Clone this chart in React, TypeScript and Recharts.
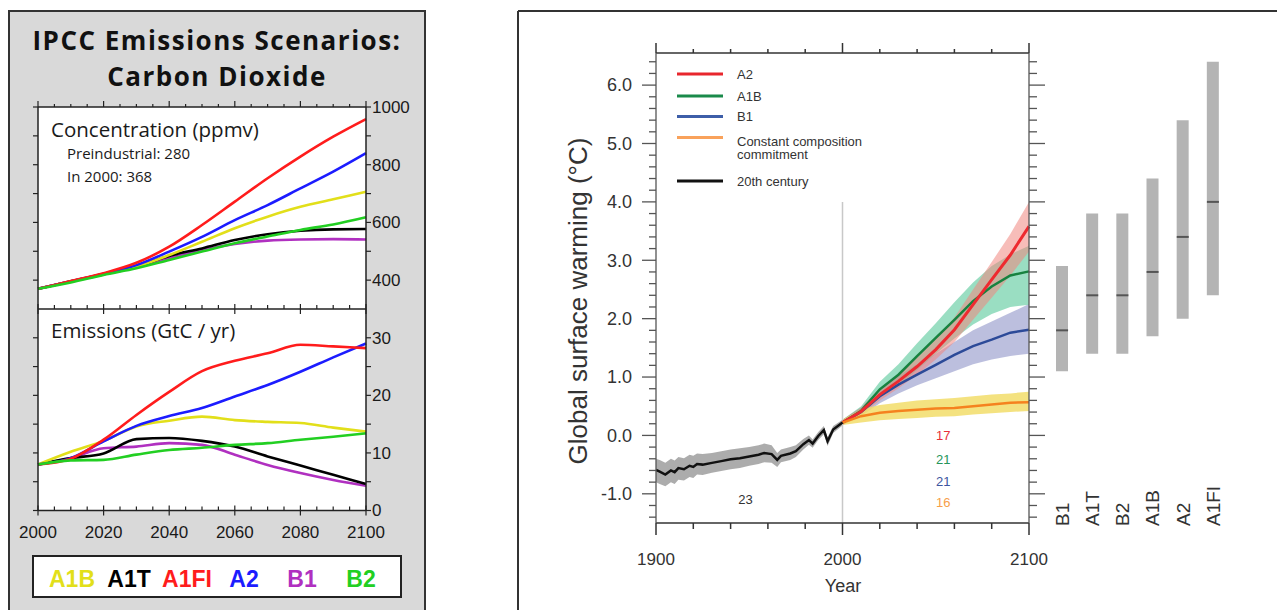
import React from 'react';
import {
  ComposedChart, Line, Area, Bar, Scatter, XAxis, YAxis, CartesianGrid, ReferenceLine, ReferenceDot,
} from 'recharts';

// ---------------- Left panel: IPCC SRES scenarios ----------------
const scenYears = [2000, 2010, 2020, 2030, 2040, 2050, 2060, 2070, 2080, 2090, 2100];
const concA1B = [370, 396, 422, 447, 487, 533, 580, 620, 654, 680, 706];
const concA1T = [370, 396, 421, 447, 484, 510, 539, 559, 571, 576, 577];
const concA1FI = [370, 397, 424, 460, 516, 591, 672, 753, 828, 897, 958];
const concA2 = [370, 396, 422, 452, 499, 550, 608, 660, 718, 776, 840];
const concB1 = [370, 395, 420, 445, 476, 504, 525, 537, 541, 542, 541];
const concB2 = [370, 392, 418, 441, 470, 499, 528, 551, 574, 593, 618];

const emisA1B = [8.0, 10.2, 12.1, 14.6, 15.6, 16.3, 15.7, 15.4, 15.2, 14.4, 13.7];
const emisA1T = [8.0, 9.1, 9.9, 12.4, 12.6, 12.1, 11.1, 9.4, 7.8, 6.2, 4.6];
const emisA1FI = [8.0, 9.0, 12.3, 16.6, 20.6, 24.2, 26.0, 27.3, 28.8, 28.5, 28.2];
const emisA2 = [8.0, 9.1, 12.0, 14.7, 16.4, 17.8, 19.8, 21.8, 24.1, 26.6, 29.0];
const emisB1 = [8.0, 9.1, 10.8, 11.1, 11.7, 11.4, 9.7, 7.9, 6.5, 5.3, 4.3];
const emisB2 = [8.0, 8.7, 8.8, 9.7, 10.5, 10.9, 11.4, 11.7, 12.3, 12.8, 13.4];

const scenNames = ['A1B', 'A1T', 'A1FI', 'A2', 'B1', 'B2'];
const scenColors = ['#e2df1a', '#000000', '#ff1c1c', '#1c1cff', '#b030c0', '#22cf22'];
const scenKeys = ['a1b', 'a1t', 'a1fi', 'a2', 'b1', 'b2'];

const concData = scenYears.map((year, i) => ({
  year, a1b: concA1B[i], a1t: concA1T[i], a1fi: concA1FI[i], a2: concA2[i], b1: concB1[i], b2: concB2[i],
}));
const emisData = scenYears.map((year, i) => ({
  year, a1b: emisA1B[i], a1t: emisA1T[i], a1fi: emisA1FI[i], a2: emisA2[i], b1: emisB1[i], b2: emisB2[i],
}));

// ---------------- Right panel: global surface warming ----------------
const histYears = [1900, 1902, 1905, 1908, 1910, 1912, 1915, 1918, 1920, 1922, 1925, 1930, 1935, 1940, 1945, 1950, 1955, 1958, 1962, 1965, 1967, 1972, 1975, 1979, 1982, 1984, 1987, 1990, 1992, 1995, 2000];
const histMean = [-0.59, -0.62, -0.67, -0.60, -0.63, -0.56, -0.58, -0.52, -0.54, -0.49, -0.50, -0.47, -0.44, -0.41, -0.39, -0.36, -0.33, -0.30, -0.32, -0.42, -0.35, -0.31, -0.27, -0.15, -0.08, -0.14, -0.01, 0.09, -0.10, 0.10, 0.22];
const histLow = [-0.80, -0.83, -0.87, -0.80, -0.83, -0.76, -0.77, -0.71, -0.73, -0.67, -0.68, -0.64, -0.61, -0.58, -0.56, -0.52, -0.49, -0.46, -0.47, -0.54, -0.46, -0.42, -0.37, -0.24, -0.16, -0.21, -0.08, 0.02, -0.18, 0.04, 0.17];
const histHigh = [-0.40, -0.42, -0.47, -0.40, -0.43, -0.37, -0.39, -0.33, -0.35, -0.31, -0.32, -0.30, -0.27, -0.24, -0.22, -0.20, -0.17, -0.14, -0.17, -0.30, -0.24, -0.20, -0.17, -0.06, 0.00, -0.07, 0.06, 0.16, -0.03, 0.16, 0.27];

const futYears = [2000, 2010, 2020, 2030, 2040, 2050, 2060, 2070, 2080, 2090, 2100];
const a2Mean = [0.22, 0.41, 0.70, 0.93, 1.18, 1.47, 1.81, 2.24, 2.67, 3.09, 3.58];
const a2Low = [0.18, 0.34, 0.60, 0.81, 1.04, 1.30, 1.60, 1.98, 2.36, 2.74, 3.15];
const a2High = [0.27, 0.48, 0.80, 1.05, 1.33, 1.65, 2.02, 2.50, 2.97, 3.45, 4.00];
const a1bMean = [0.22, 0.42, 0.79, 1.04, 1.36, 1.67, 1.98, 2.30, 2.55, 2.74, 2.81];
const a1bLow = [0.18, 0.34, 0.65, 0.86, 1.12, 1.40, 1.66, 1.90, 2.08, 2.20, 2.24];
const a1bHigh = [0.27, 0.50, 0.92, 1.22, 1.58, 1.92, 2.28, 2.62, 2.90, 3.10, 3.25];
const b1Mean = [0.22, 0.40, 0.67, 0.87, 1.04, 1.21, 1.38, 1.53, 1.64, 1.76, 1.81];
const b1Low = [0.18, 0.33, 0.55, 0.72, 0.86, 0.98, 1.10, 1.22, 1.30, 1.36, 1.40];
const b1High = [0.27, 0.48, 0.80, 1.02, 1.22, 1.40, 1.60, 1.80, 1.95, 2.10, 2.25];
const commitMean = [0.22, 0.33, 0.39, 0.42, 0.44, 0.46, 0.47, 0.50, 0.53, 0.56, 0.57];
const commitLow = [0.18, 0.22, 0.26, 0.28, 0.30, 0.32, 0.33, 0.36, 0.38, 0.40, 0.42];
const commitHigh = [0.27, 0.45, 0.52, 0.56, 0.60, 0.62, 0.64, 0.67, 0.70, 0.72, 0.75];

const histRows = histYears.map((year, i) => ({ year, hist: histMean[i], histBand: [histLow[i], histHigh[i]] }));
const futRows = futYears.map((year, i) => ({
  year,
  a2: a2Mean[i], a2Band: [a2Low[i], a2High[i]],
  a1b: a1bMean[i], a1bBand: [a1bLow[i], a1bHigh[i]],
  b1: b1Mean[i], b1Band: [b1Low[i], b1High[i]],
  commit: commitMean[i], commitBand: [commitLow[i], commitHigh[i]],
}));
const warmData = [
  ...histRows.slice(0, -1),
  { ...histRows[histRows.length - 1], ...futRows[0] },
  ...futRows.slice(1),
];

// number of models
const countLabels = [
  { year: 2054, value: 0.0, text: '17', color: '#e8303a' },
  { year: 2054, value: -0.41, text: '21', color: '#25955a' },
  { year: 2054, value: -0.79, text: '21', color: '#3d55a0' },
  { year: 2054, value: -1.15, text: '16', color: '#f7a04a' },
  { year: 1948, value: -1.09, text: '23', color: '#333333' },
];

// likely ranges (bars)
const barNames = ['B1', 'A1T', 'B2', 'A1B', 'A2', 'A1FI'];
const barLow = [1.1, 1.4, 1.4, 1.7, 2.0, 2.4];
const barHigh = [2.9, 3.8, 3.8, 4.4, 5.4, 6.4];
const barBest = [1.8, 2.4, 2.4, 2.8, 3.4, 4.0];
const barData = barNames.map((name, i) => ({ name, range: [barLow[i], barHigh[i]], best: barBest[i] }));

// ---------------- ticks ----------------
const range = (a: number, b: number, s: number) => {
  const out: number[] = [];
  for (let v = a; v <= b + 1e-9; v += s) out.push(Math.round(v * 100) / 100);
  return out;
};
const leftXTicks = range(2000, 2100, 5);
const concYTicks = range(400, 1000, 100);
const emisYTicks = range(0, 30, 5);
const warmXTicks = range(1900, 2100, 20);
const warmYTicks = range(-1.4, 6.4, 0.2);
const isInt = (v: number) => Math.abs(v - Math.round(v)) < 1e-6;

const ARIAL = '"Liberation Sans", Arial, Helvetica, sans-serif';
const MYRIAD = '"Open Sans", "Noto Sans", sans-serif';

type TickSpec = {
  side: 'top' | 'bottom' | 'left' | 'right';
  major: (v: number) => boolean;
  majorOut: number; majorIn?: number; minorOut: number; minorIn?: number;
  label?: (v: number) => string | null;
  gap?: number; fontSize?: number; fontFamily?: string; color?: string; stroke?: string; sw?: number;
};
const makeTick = (s: TickSpec) => (props: any) => {
  const { x, y, payload } = props;
  const v = Number(payload?.value);
  const mj = s.major(v);
  const out = mj ? s.majorOut : s.minorOut;
  const inn = (mj ? s.majorIn : s.minorIn) ?? 0;
  const lab = s.label ? s.label(v) : null;
  const g = s.gap ?? 4;
  const tp = { fontSize: s.fontSize ?? 14, fontFamily: s.fontFamily ?? ARIAL, fill: s.color ?? '#222' };
  let ln: any;
  let tx: any = null;
  if (s.side === 'bottom') {
    ln = <line x1={x} x2={x} y1={y - inn} y2={y + out} />;
    if (lab != null) tx = <text x={x} y={y + g} textAnchor="middle" {...tp}>{lab}</text>;
  } else if (s.side === 'top') {
    ln = <line x1={x} x2={x} y1={y - out} y2={y + inn} />;
    if (lab != null) tx = <text x={x} y={y - g} textAnchor="middle" {...tp}>{lab}</text>;
  } else if (s.side === 'left') {
    ln = <line x1={x - out} x2={x + inn} y1={y} y2={y} />;
    if (lab != null) tx = <text x={x - out - g} y={y} dy="0.35em" textAnchor="end" {...tp}>{lab}</text>;
  } else {
    ln = <line x1={x - inn} x2={x + out} y1={y} y2={y} />;
    if (lab != null) tx = <text x={x + out + g} y={y} dy="0.35em" textAnchor="start" {...tp}>{lab}</text>;
  }
  return (
    <g>
      <g stroke={s.stroke ?? '#222'} strokeWidth={s.sw ?? 1.2}>{ln}</g>
      {tx}
    </g>
  );
};

const yr20 = (v: number) => v % 20 === 0;
const lpTopTick = makeTick({ side: 'top', major: yr20, majorOut: 6, minorOut: 3 });
const lpMidTick = makeTick({ side: 'bottom', major: yr20, majorOut: 5, majorIn: 5, minorOut: 0, minorIn: 4 });
const lpBotTick = makeTick({
  side: 'bottom', major: yr20, majorOut: 5, majorIn: 5, minorOut: 0, minorIn: 4,
  label: (v) => (v % 20 === 0 ? String(v) : null), gap: 27, fontSize: 17, color: '#1a1a1a',
});
const lpLeftTick = makeTick({ side: 'left', major: () => true, majorOut: 5, minorOut: 5 });
const concRightTick = makeTick({
  side: 'right', major: () => true, majorOut: 5, minorOut: 5,
  label: (v) => (v % 200 === 0 ? String(v) : null), gap: 1, fontSize: 17, color: '#1a1a1a',
});
const emisRightTick = makeTick({
  side: 'right', major: () => true, majorOut: 5, minorOut: 5,
  label: (v) => (v % 10 === 0 ? String(v) : null), gap: 1, fontSize: 17, color: '#1a1a1a',
});

const wMajX = (v: number) => v % 100 === 0;
const wTopTick = makeTick({ side: 'top', major: wMajX, majorOut: 10, minorOut: 4, stroke: '#333', sw: 1.5 });
const wBotTick = makeTick({
  side: 'bottom', major: wMajX, majorOut: 12, minorOut: 6, stroke: '#333', sw: 1.5,
  label: (v) => (v % 100 === 0 ? String(v) : null), gap: 42, fontSize: 17, color: '#333',
});
const wLeftTick = makeTick({
  side: 'left', major: isInt, majorOut: 14, minorOut: 7, stroke: '#555', sw: 1.3,
  label: (v) => (isInt(v) ? v.toFixed(1) : null), gap: 10, fontSize: 18, color: '#333',
});
const wRightTick = makeTick({ side: 'right', major: isInt, majorOut: 16, minorOut: 8, stroke: '#555', sw: 1.3 });

const barLabelTick = (props: any) => {
  const { x, y, payload } = props;
  return (
    <text
      transform={`translate(${x},${y + 3}) rotate(-90)`}
      textAnchor="start"
      dy="0.36em"
      fontSize={19}
      fontFamily={ARIAL}
      fill="#333"
    >
      {payload.value}
    </text>
  );
};
const BestMark = (p: any) => (
  <line x1={p.cx - 6} x2={p.cx + 6} y1={p.cy} y2={p.cy} stroke="#555" strokeWidth={2} />
);

const axisStroke = { stroke: '#222', strokeWidth: 1.5 };

export default function App() {
  const order = [4, 1, 0, 3, 2, 5];
  return (
    <div style={{ position: 'absolute', left: 0, top: 0, width: 1277, height: 610, background: '#fff', overflow: 'hidden' }}>
      {/* left gray panel */}
      <div
        style={{
          position: 'absolute', left: 8, top: 10, width: 418, height: 640,
          background: '#d9d9d9', border: '2px solid #333', boxSizing: 'border-box',
        }}
      />

      {/* emissions chart (drawn first so the boundary ticks of the upper chart stay on top) */}
      <div style={{ position: 'absolute', left: 0, top: 300 }}>
        <ComposedChart width={430} height={250} data={emisData} margin={{ top: 9, right: 9, bottom: 4.5, left: 28 }}>
          <CartesianGrid fill="#ffffff" stroke="none" />
          <XAxis
            dataKey="year" type="number" domain={[2000, 2100]} ticks={leftXTicks} interval={0}
            height={35} tickSize={0} tickMargin={0} tickLine={false} axisLine={axisStroke} tick={lpBotTick}
          />
          <YAxis
            domain={[0, 35]} type="number" ticks={emisYTicks} interval={0} width={10}
            tickSize={0} tickMargin={0} tickLine={false} axisLine={axisStroke} tick={lpLeftTick}
          />
          <YAxis
            yAxisId="r" orientation="right" domain={[0, 35]} type="number" ticks={emisYTicks} interval={0} width={55}
            tickSize={0} tickMargin={0} tickLine={false} axisLine={axisStroke} tick={emisRightTick}
          />
          <Line yAxisId="r" dataKey="b2" stroke="none" dot={false} activeDot={false} isAnimationActive={false} legendType="none" />
          {order.map((k) => (
            <Line
              key={scenKeys[k]} type="monotone" dataKey={scenKeys[k]} stroke={scenColors[k]}
              strokeWidth={2.6} dot={false} activeDot={false} isAnimationActive={false}
            />
          ))}
        </ComposedChart>
      </div>

      {/* concentration chart */}
      <div style={{ position: 'absolute', left: 0, top: 0 }}>
        <ComposedChart width={430} height={320} data={concData} margin={{ top: 97, right: 9, bottom: 5, left: 28 }}>
          <CartesianGrid fill="#ffffff" stroke="none" />
          <XAxis
            xAxisId="top" orientation="top" dataKey="year" type="number" domain={[2000, 2100]} ticks={leftXTicks}
            interval={0} height={10} tickSize={0} tickMargin={0} tickLine={false} axisLine={axisStroke} tick={lpTopTick}
          />
          <XAxis
            dataKey="year" type="number" domain={[2000, 2100]} ticks={leftXTicks} interval={0}
            height={6} tickSize={0} tickMargin={0} tickLine={false} axisLine={axisStroke} tick={lpMidTick}
          />
          <YAxis
            domain={[300, 1000]} type="number" ticks={concYTicks} interval={0} width={10}
            tickSize={0} tickMargin={0} tickLine={false} axisLine={axisStroke} tick={lpLeftTick}
          />
          <YAxis
            yAxisId="r" orientation="right" domain={[300, 1000]} type="number" ticks={concYTicks} interval={0} width={55}
            tickSize={0} tickMargin={0} tickLine={false} axisLine={axisStroke} tick={concRightTick}
          />
          <Line xAxisId="top" yAxisId="r" dataKey="b2" stroke="none" dot={false} activeDot={false} isAnimationActive={false} legendType="none" />
          {order.map((k) => (
            <Line
              key={scenKeys[k]} type="monotone" dataKey={scenKeys[k]} stroke={scenColors[k]}
              strokeWidth={2.6} dot={false} activeDot={false} isAnimationActive={false}
            />
          ))}
        </ComposedChart>
      </div>

      {/* warming chart */}
      <div style={{ position: 'absolute', left: 530, top: 0 }}>
        <ComposedChart width={540} height={610} data={warmData} margin={{ top: 41, right: 16, bottom: 37, left: 60 }}>
          <XAxis
            xAxisId="top" orientation="top" dataKey="year" type="number" domain={[1900, 2100]} ticks={warmXTicks}
            interval={0} height={12} tickSize={0} tickMargin={0} tickLine={false}
            axisLine={{ stroke: '#333', strokeWidth: 1.5 }} tick={wTopTick}
          />
          <XAxis
            dataKey="year" type="number" domain={[1900, 2100]} ticks={warmXTicks} interval={0}
            height={50} tickSize={0} tickMargin={0} tickLine={false}
            axisLine={{ stroke: '#333', strokeWidth: 1.5 }} tick={wBotTick}
          />
          <YAxis
            domain={[-1.5, 6.55]} type="number" ticks={warmYTicks} interval={0} width={66}
            tickSize={0} tickMargin={0} tickLine={false} axisLine={{ stroke: '#555', strokeWidth: 1.3 }} tick={wLeftTick}
          />
          <YAxis
            yAxisId="right" orientation="right" domain={[-1.5, 6.55]} type="number" ticks={warmYTicks} interval={0} width={25}
            tickSize={0} tickMargin={0} tickLine={false} axisLine={{ stroke: '#555', strokeWidth: 1.3 }} tick={wRightTick}
          />
          <Line xAxisId="top" yAxisId="right" dataKey="hist" stroke="none" dot={false} activeDot={false} isAnimationActive={false} legendType="none" />
          <Area type="linear" dataKey="histBand" fill="#a3a3a3" fillOpacity={0.9} stroke="none" isAnimationActive={false} />
          <Area type="linear" dataKey="b1Band" fill="#b5b8da" fillOpacity={0.9} stroke="none" isAnimationActive={false} />
          <Area type="linear" dataKey="a1bBand" fill="#5cc99c" fillOpacity={0.62} stroke="none" isAnimationActive={false} />
          <Area type="linear" dataKey="a2Band" fill="#f0877f" fillOpacity={0.55} stroke="none" isAnimationActive={false} />
          <Area type="linear" dataKey="commitBand" fill="#f2dd6a" fillOpacity={0.85} stroke="none" isAnimationActive={false} />
          <ReferenceLine segment={[{ x: 2000, y: 4 }, { x: 2000, y: -1.5 }]} stroke="#c8c8c8" strokeWidth={1.5} />
          <Line type="linear" dataKey="b1" stroke="#2c4a98" strokeWidth={2.5} dot={false} activeDot={false} isAnimationActive={false} />
          <Line type="linear" dataKey="a1b" stroke="#17823f" strokeWidth={2.5} dot={false} activeDot={false} isAnimationActive={false} />
          <Line type="linear" dataKey="a2" stroke="#ee2a30" strokeWidth={3} dot={false} activeDot={false} isAnimationActive={false} />
          <Line type="linear" dataKey="commit" stroke="#f5821f" strokeWidth={2.5} dot={false} activeDot={false} isAnimationActive={false} />
          <Line type="linear" dataKey="hist" stroke="#111111" strokeWidth={2.5} dot={false} activeDot={false} isAnimationActive={false} />
          {countLabels.map((c, i) => (
            <ReferenceDot
              key={i} x={c.year} y={c.value} r={1} fill="none" stroke="none"
              label={{ value: c.text, position: 'center', fill: c.color, fontSize: 13, fontFamily: ARIAL }}
            />
          ))}
        </ComposedChart>
      </div>

      {/* likely-range bars */}
      <div style={{ position: 'absolute', left: 1040, top: 0 }}>
        <ComposedChart width={237} height={610} data={barData} margin={{ top: 53, right: 49, bottom: 47, left: 7 }}>
          <XAxis
            dataKey="name" type="category" height={40} tickSize={0} tickMargin={0} tickLine={false}
            axisLine={false} interval={0} tick={barLabelTick}
          />
          <YAxis hide type="number" domain={[-1.5, 6.55]} />
          <Bar dataKey="range" fill="#b4b4b4" barSize={12} isAnimationActive={false} />
          <Scatter dataKey="best" shape={BestMark} isAnimationActive={false} />
        </ComposedChart>
      </div>

      {/* text overlay */}
      <svg width={1277} height={610} style={{ position: 'absolute', left: 0, top: 0, pointerEvents: 'none' }}>
        <g fontFamily={MYRIAD} fill="#111" fontWeight={700} fontSize={26} textAnchor="middle" letterSpacing={1.5}>
          <text x={217} y={50}>IPCC Emissions Scenarios:</text>
          <text x={217} y={86}>Carbon Dioxide</text>
        </g>
        <g fontFamily={MYRIAD} fill="#1a1a1a">
          <text x={51} y={137} fontSize={20.5}>Concentration (ppmv)</text>
          <text x={67} y={159} fontSize={15}>Preindustrial: 280</text>
          <text x={67} y={181.5} fontSize={15}>In 2000: 368</text>
          <text x={51} y={338} fontSize={20.5}>Emissions (GtC / yr)</text>
        </g>
        {/* scenario legend box */}
        <rect x={33} y={556} width={368} height={41} fill="#fff" stroke="#222" strokeWidth={2} />
        <g fontFamily={ARIAL} fontWeight={700} fontSize={23} textAnchor="middle">
          {scenNames.map((n, i) => (
            <text key={n} x={[72, 129, 187, 244, 302, 361][i]} y={587} fill={scenColors[i]}>{n}</text>
          ))}
        </g>

        {/* right panel frame */}
        <line x1={518} y1={11} x2={1277} y2={11} stroke="#333" strokeWidth={2} />
        <line x1={518} y1={11} x2={518} y2={610} stroke="#333" strokeWidth={2} />

        {/* warming legend */}
        <g strokeWidth={3}>
          <line x1={677} x2={723} y1={74} y2={74} stroke="#e8262d" />
          <line x1={677} x2={723} y1={96} y2={96} stroke="#1a8a4a" />
          <line x1={677} x2={723} y1={116.5} y2={116.5} stroke="#3d5ea8" />
          <line x1={677} x2={723} y1={137.5} y2={137.5} stroke="#f9a25b" />
          <line x1={677} x2={723} y1={181} y2={181} stroke="#111" />
        </g>
        <g fontFamily={ARIAL} fontSize={13} fill="#333">
          <text x={737} y={78.5}>A2</text>
          <text x={737} y={100.5}>A1B</text>
          <text x={737} y={121}>B1</text>
          <text x={737} y={146}>Constant composition</text>
          <text x={737} y={159}>commitment</text>
          <text x={737} y={186}>20th century</text>
        </g>
        <text
          transform="translate(578,301) rotate(-90)" textAnchor="middle" dy="0.35em"
          fontFamily={ARIAL} fontSize={26} fill="#333"
        >
          Global surface warming (°C)
        </text>
        <text x={843} y={592} textAnchor="middle" fontFamily={ARIAL} fontSize={18} fill="#333">Year</text>
      </svg>
    </div>
  );
}
